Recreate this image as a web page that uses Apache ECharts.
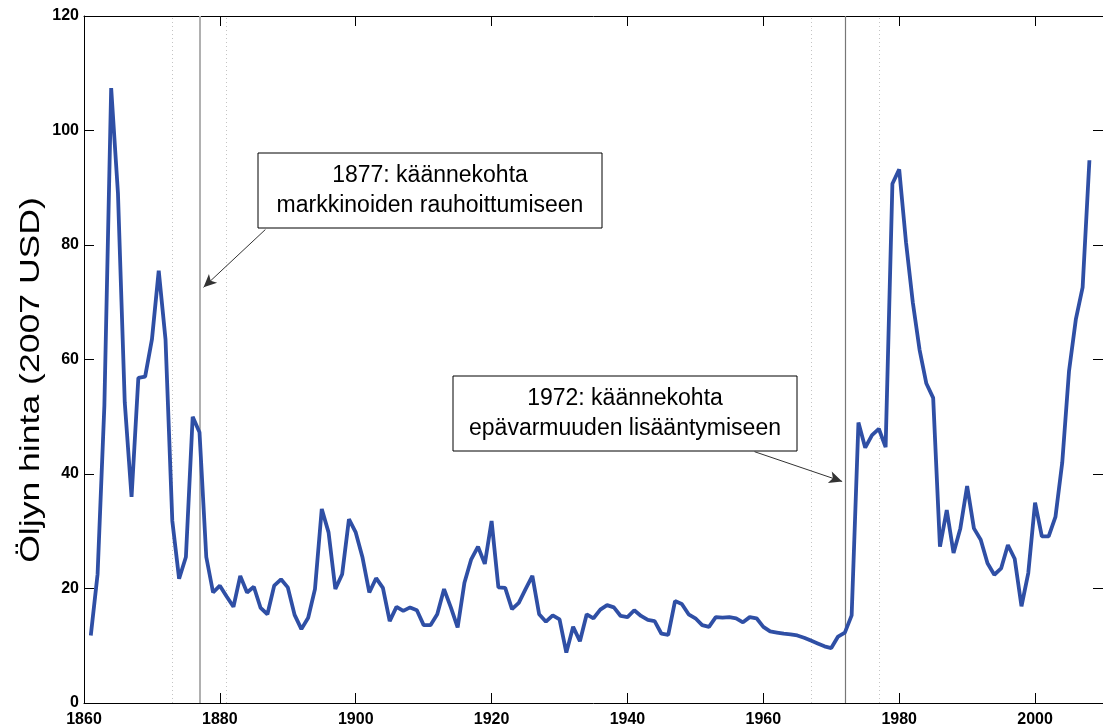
<!DOCTYPE html>
<html>
<head>
<meta charset="utf-8">
<title>Öljyn hinta 1861–2008</title>
<script src="https://cdn.jsdelivr.net/npm/echarts@6/dist/echarts.min.js"></script>
<style>
  html, body { margin: 0; padding: 0; background: #fff; }
  #chart { width: 1103px; height: 728px; }
</style>
</head>
<body>
<div id="chart"></div>
<script>
// öljyn hinta vuosittain, 2007 USD (luettu kuvasta)
var firstYear = 1861;
var prices = [
  11.8, 22.5, 52, 107.4, 89, 52.5, 36, 56.8, 57, 63.5,        // 1861-1870
  75.5, 63.5, 31.8, 21.7, 25.5, 50, 47.3, 25.5, 19.3, 20.5,   // 1871-1880
  18.6, 16.8, 22.2, 19.3, 20.3, 16.6, 15.5, 20.5, 21.6, 20.2, // 1881-1890
  15.4, 12.9, 14.9, 19.9, 33.9, 29.8, 19.9, 22.5, 32.1, 29.8, // 1891-1900
  25.4, 19.3, 21.8, 20.1, 14.3, 16.8, 16.1, 16.7, 16.2, 13.6, // 1901-1910
  13.6, 15.5, 19.9, 16.7, 13.2, 21, 25.1, 27.3, 24.3, 31.8,   // 1911-1920
  20.2, 20.1, 16.4, 17.5, 19.9, 22.2, 15.5, 14.2, 15.3, 14.6, // 1921-1930
  8.8, 13.3, 10.8, 15.5, 14.8, 16.3, 17.1, 16.7, 15.2, 15.0,  // 1931-1940
  16.2, 15.2, 14.5, 14.3, 12.1, 11.9, 17.8, 17.3, 15.5, 14.8, // 1941-1950
  13.6, 13.3, 15.0, 14.9, 15.0, 14.8, 14.1, 15.0, 14.8, 13.3, // 1951-1960
  12.5, 12.3, 12.1, 12.0, 11.8, 11.4, 10.9, 10.4, 9.9, 9.6,   // 1961-1970
  11.6, 12.3, 15.3, 49, 44.6, 46.8, 47.9, 44.7, 90.7, 93.2,   // 1971-1980
  80.5, 70, 61.7, 55.8, 53.3, 27.3, 33.7, 26.2, 30.5, 37.9,   // 1981-1990
  30.5, 28.5, 24.4, 22.4, 23.5, 27.6, 25.2, 16.9, 22.7, 35,   // 1991-2000
  29.1, 29.1, 32.5, 42, 58, 67, 72.6, 94.8                    // 2001-2008
];
var years = prices.map(function (p, i) { return firstYear + i; });

var turningPoints = [1877, 1972];
var bandEdges = [1873, 1881, 1967, 1977];
var yTitle = 'Öljyn hinta (2007 USD)';
var notes = [
  { text: '1877: käännekohta\nmarkkinoiden rauhoittumiseen', from: [1886.7, 82.7], to: [1877.6, 72.6] },
  { text: '1972: käännekohta\nepävarmuuden lisääntymiseen', from: [1958.7, 43.9], to: [1971.6, 38.7] }
];

var font = '"Liberation Sans", Arial, sans-serif';
var chart = echarts.init(document.getElementById('chart'));

var lineData = years.map(function (y, i) { return [y, prices[i]]; });

var marks = [];
bandEdges.forEach(function (y) {
  marks.push({ xAxis: y, lineStyle: { color: '#c4c4c4', width: 1, type: [1, 3] } });
});
marks.push({ xAxis: turningPoints[0], lineStyle: { color: '#b0b0b0', width: 2, type: 'solid' } });
marks.push({ xAxis: turningPoints[1], lineStyle: { color: '#777', width: 1.2, type: 'solid' } });
notes.forEach(function (n) {
  marks.push([
    { coord: n.from, symbol: 'none', lineStyle: { color: '#333', width: 1, type: 'solid' } },
    { coord: n.to, symbol: 'arrow', symbolSize: [9, 13] }
  ]);
});

var tickStyle = { inside: true, length: 10, lineStyle: { color: '#000', width: 1 } };
var lineStyleAx = { onZero: false, lineStyle: { color: '#000', width: 1 } };
var labelStyle = { color: '#000', fontWeight: 'bold', fontSize: 16, fontFamily: font };

var option = {
  animation: false,
  backgroundColor: '#fff',
  grid: { left: 84, right: 0, top: 16, bottom: 25 },
  xAxis: [
    {
      type: 'value', min: 1860, max: 2010, interval: 20, position: 'bottom',
      axisLine: lineStyleAx, axisTick: tickStyle,
      axisLabel: Object.assign({ margin: 9, showMaxLabel: false, formatter: function (v) { return String(v); } }, labelStyle),
      splitLine: { show: false }
    },
    {
      type: 'value', min: 1860, max: 2010, interval: 20, position: 'top',
      axisLine: lineStyleAx, axisTick: tickStyle,
      axisLabel: { show: false }, splitLine: { show: false }
    }
  ],
  yAxis: [
    {
      type: 'value', min: 0, max: 120, interval: 20, position: 'left',
      axisLine: lineStyleAx, axisTick: tickStyle,
      axisLabel: Object.assign({ margin: 5 }, labelStyle),
      splitLine: { show: false }
    },
    {
      type: 'value', min: 0, max: 120, interval: 20, position: 'right',
      axisLine: lineStyleAx, axisTick: tickStyle,
      axisLabel: { show: false }, splitLine: { show: false }
    }
  ],
  series: [
    {
      type: 'line',
      data: lineData,
      showSymbol: false,
      silent: true,
      lineStyle: { color: '#2f4fa5', width: 3.8 },
      z: 3,
      markLine: {
        silent: true,
        symbol: ['none', 'none'],
        label: { show: false },
        emphasis: { disabled: true },
        data: marks,
        z: 2
      }
    }
  ],
  graphic: [
    {
      type: 'text', x: 31, y: 380, rotation: Math.PI / 2, scaleX: 1.27,
      style: { text: yTitle, fontSize: 28, fontFamily: font, fill: '#000', align: 'center', verticalAlign: 'middle' }
    },
    {
      type: 'group', x: 258, y: 153, z: 10,
      children: [
        { type: 'rect', shape: { x: 0, y: 0, width: 344, height: 75 }, style: { fill: '#fff', stroke: '#000', lineWidth: 1 } },
        { type: 'text', x: 172, y: 38, style: { text: notes[0].text, fontSize: 23, lineHeight: 30, fontFamily: font, fill: '#000', align: 'center', verticalAlign: 'middle' } }
      ]
    },
    {
      type: 'group', x: 453, y: 376, z: 10,
      children: [
        { type: 'rect', shape: { x: 0, y: 0, width: 344, height: 75 }, style: { fill: '#fff', stroke: '#000', lineWidth: 1 } },
        { type: 'text', x: 172, y: 38, style: { text: notes[1].text, fontSize: 23, lineHeight: 30, fontFamily: font, fill: '#000', align: 'center', verticalAlign: 'middle' } }
      ]
    }
  ]
};

chart.setOption(option);
</script>
</body>
</html>
